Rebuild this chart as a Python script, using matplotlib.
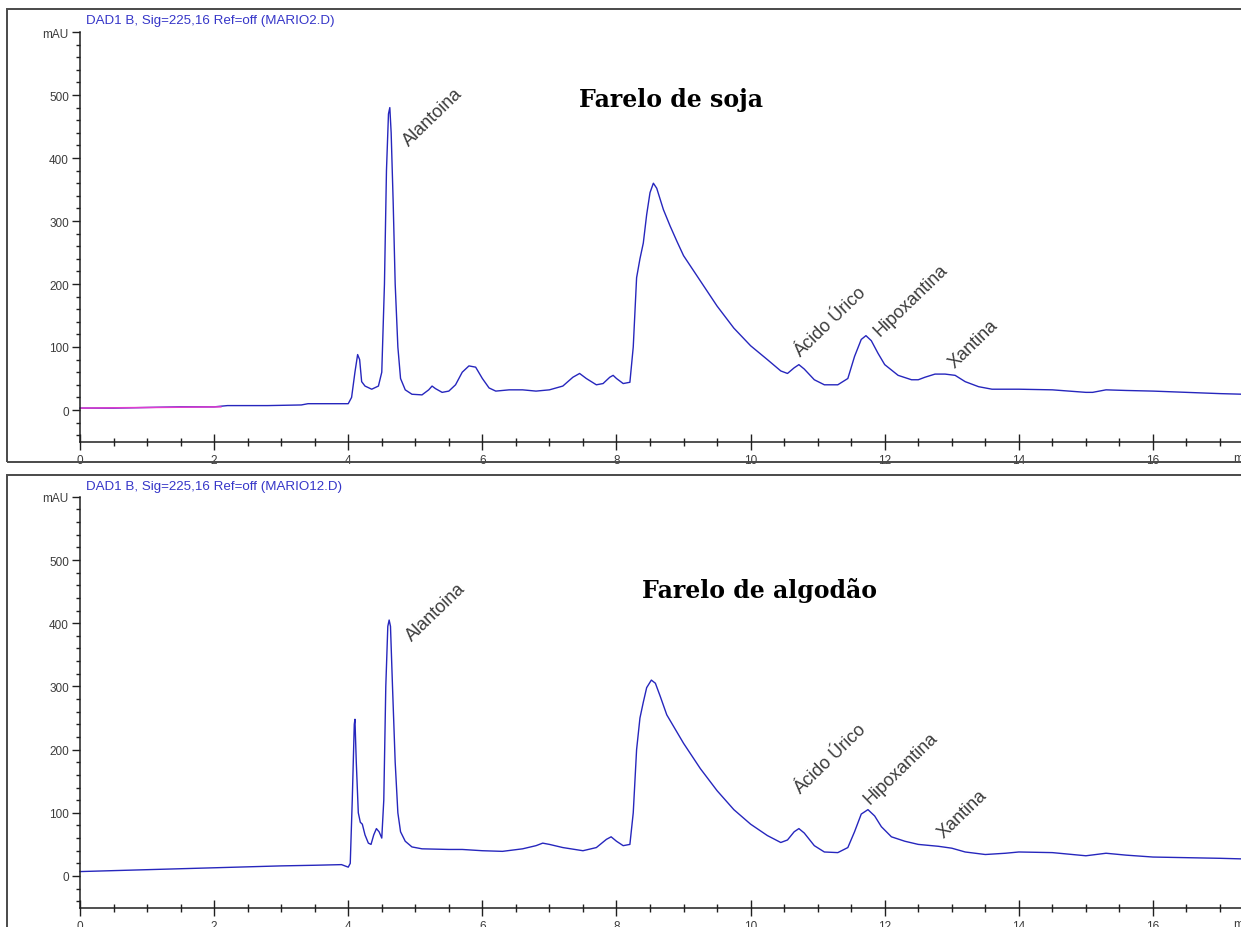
import matplotlib
matplotlib.use("Agg")
import matplotlib.pyplot as plt
from matplotlib.patches import Rectangle
from matplotlib.ticker import MultipleLocator, FixedLocator

# retention time (min) / absorbance (mAU), DAD1 B 225 nm
soja_t = [0.0, 0.5, 1.0, 1.5, 2.0, 2.1, 2.2, 2.8, 3.3, 3.4, 3.8, 4.0,
          4.05, 4.10, 4.14, 4.17, 4.20, 4.25, 4.35, 4.45, 4.50, 4.54, 4.57,
          4.60, 4.62, 4.64, 4.67, 4.70, 4.74, 4.78, 4.85, 4.95, 5.10, 5.20,
          5.25, 5.30, 5.40, 5.50, 5.60, 5.70, 5.80, 5.90, 6.00, 6.10, 6.20,
          6.40, 6.60, 6.80, 7.00, 7.20, 7.35, 7.45, 7.55, 7.70, 7.80, 7.90,
          7.95, 8.00, 8.10, 8.20, 8.25, 8.30, 8.35, 8.40, 8.45, 8.50, 8.55,
          8.60, 8.65, 8.70, 8.80, 8.90, 9.00, 9.25, 9.50, 9.75, 10.0, 10.25,
          10.45, 10.55, 10.65, 10.72, 10.80, 10.95, 11.10, 11.30, 11.45,
          11.55, 11.65, 11.72, 11.80, 11.90, 12.00, 12.20, 12.40, 12.50,
          12.60, 12.75, 12.90, 13.05, 13.20, 13.40, 13.60, 14.00, 14.50,
          15.00, 15.10, 15.30, 15.60, 16.00, 16.50, 17.00, 17.35]
soja_mau = [3, 3, 4, 5, 5, 6, 7, 7, 8, 10, 10, 10,
            20, 60, 88, 80, 45, 38, 33, 38, 60, 200, 380,
            470, 480, 440, 330, 200, 100, 50, 32, 25, 24, 32,
            38, 34, 28, 30, 40, 60, 70, 68, 50, 35, 30,
            32, 32, 30, 32, 38, 52, 58, 50, 40, 42, 52,
            55, 50, 42, 44, 100, 210, 240, 265, 310, 345, 360,
            352, 335, 318, 292, 268, 245, 205, 165, 130, 102, 80,
            62, 58, 67, 72, 65, 48, 40, 40, 50,
            85, 112, 118, 110, 90, 72, 55, 48, 48,
            52, 57, 57, 55, 45, 37, 33, 33, 32,
            28, 28, 32, 31, 30, 28, 26, 25]

algodao_t = [0.0, 1.0, 2.0, 3.0, 3.5, 3.9, 4.0, 4.03, 4.06, 4.09, 4.10,
             4.12, 4.15, 4.18, 4.21, 4.25, 4.30, 4.34, 4.38, 4.42, 4.46,
             4.50, 4.53, 4.56, 4.59, 4.61, 4.63, 4.66, 4.70, 4.74, 4.78,
             4.85, 4.95, 5.10, 5.50, 5.70, 6.00, 6.30, 6.60, 6.80, 6.90,
             7.00, 7.20, 7.50, 7.70, 7.85, 7.92, 8.00, 8.10, 8.20, 8.25,
             8.30, 8.35, 8.40, 8.45, 8.52, 8.58, 8.65, 8.75, 9.00, 9.25,
             9.50, 9.75, 10.0, 10.25, 10.45, 10.55, 10.65, 10.72,
             10.80, 10.95, 11.10, 11.30, 11.45, 11.55, 11.65, 11.75, 11.85,
             11.95, 12.10, 12.30, 12.50, 12.80, 13.00, 13.20, 13.50, 13.80,
             14.00, 14.50, 15.00, 15.30, 15.60, 16.00, 16.50, 17.00, 17.35]
algodao_mau = [7, 10, 13, 16, 17, 18, 14, 20, 120, 240, 248,
               180, 100, 85, 82, 65, 52, 50, 65, 75, 70,
               60, 120, 300, 395, 405, 395, 300, 180, 100, 70,
               55, 46, 43, 42, 42, 40, 39, 43, 48, 52,
               50, 45, 40, 45, 58, 62, 55, 48, 50, 100,
               200, 250, 275, 298, 310, 305, 285, 255, 210, 170,
               135, 105, 82, 64, 53, 57, 70, 75,
               68, 48, 38, 37, 45, 70, 98, 105, 95,
               78, 62, 55, 50, 47, 44, 38, 34, 36,
               38, 37, 32, 36, 33, 30, 29, 28, 27]

# manual baseline drawn over the start of the soja run
baseline_t = [0.0, 2.1]
baseline_mau = [3, 5]

peaks = ["Alantoina", "Ácido Úrico", "Hipoxantina", "Xantina"]
soja_label_pos = [(4.90, 419), (10.73, 84), (11.92, 117), (13.04, 66)]
algodao_label_pos = [(4.95, 372), (10.73, 130), (11.77, 114), (12.88, 60)]

panels = [
    ("DAD1 B, Sig=225,16 Ref=off (MARIO2.D)", "Farelo de soja", (8.81, 494),
     soja_t, soja_mau, soja_label_pos),
    ("DAD1 B, Sig=225,16 Ref=off (MARIO12.D)", "Farelo de algodão", (10.14, 454),
     algodao_t, algodao_mau, algodao_label_pos),
]

W, H = 1241, 928
fig = plt.figure(figsize=(W / 100, H / 100), dpi=100)
fig.patch.set_facecolor("white")

trace_color = "#2626bd"
text_gray = "#3c3c3c"
sans = "Liberation Sans"

# pixel boxes: (axes top, axes bottom, frame top, frame bottom)
boxes = [(33, 442.5, 10, 463), (497.8, 908.6, 476, 945)]

for i, (header, title, title_xy, t, mau, label_pos) in enumerate(panels):
    ax_top, ax_bot, fr_top, fr_bot = boxes[i]
    fig.patches.append(Rectangle((7 / W, 1 - fr_bot / H), 1.2, (fr_bot - fr_top) / H,
                                 transform=fig.transFigure, fill=False,
                                 edgecolor="#4a4a4a", linewidth=1.4))
    ax = fig.add_axes([80 / W, 1 - ax_bot / H, 1161 / W, (ax_bot - ax_top) / H])
    ax.set_facecolor("none")
    ax.set_xlim(0, 1161 / 67.06)
    ax.set_ylim(-50, 600)
    for side in ("top", "right"):
        ax.spines[side].set_visible(False)
    for side in ("left", "bottom"):
        ax.spines[side].set_color("#202020")
        ax.spines[side].set_linewidth(1.1)

    ax.plot(t, mau, color=trace_color, linewidth=1.0, clip_on=False)
    if i == 0:
        ax.plot(baseline_t, baseline_mau, color="#e23ccf", linewidth=1.1)

    ax.yaxis.set_major_locator(FixedLocator([0, 100, 200, 300, 400, 500, 600]))
    ax.set_yticklabels(["0", "100", "200", "300", "400", "500", "mAU"])
    ax.yaxis.set_minor_locator(MultipleLocator(20))
    ax.xaxis.set_major_locator(MultipleLocator(2))
    ax.xaxis.set_minor_locator(MultipleLocator(0.5))
    ax.tick_params(axis="y", which="major", direction="out", length=6, width=1,
                   pad=2, labelsize=8.5, labelcolor=text_gray, color="#202020")
    ax.tick_params(axis="y", which="minor", direction="out", length=3, width=1,
                   color="#202020")
    ax.tick_params(axis="x", which="major", direction="inout", length=12, width=1,
                   pad=3, labelsize=8.5, labelcolor=text_gray, color="#202020")
    ax.tick_params(axis="x", which="minor", direction="inout", length=6, width=1,
                   color="#202020")
    for lab in ax.get_xticklabels() + ax.get_yticklabels():
        lab.set_fontfamily(sans)

    ax.text(17.19, -0.025, "min", transform=ax.get_xaxis_transform(),
            ha="left", va="top", fontsize=8.5, color=text_gray, family=sans,
            clip_on=False)

    fig.text(86 / W, 1 - (fr_top + 11) / H, header, ha="left", va="center",
             fontsize=9.6, color="#3535c8", family=sans)

    ax.text(title_xy[0], title_xy[1], title, ha="center", va="center",
            fontsize=17, fontweight="bold", family="DejaVu Serif", color="black")

    for name, (px, py) in zip(peaks, label_pos):
        ax.text(px, py, name, rotation=44, rotation_mode="anchor", ha="left",
                va="baseline", fontsize=13, color=text_gray, family=sans)

fig.savefig("out.png", dpi=100, facecolor="white")
